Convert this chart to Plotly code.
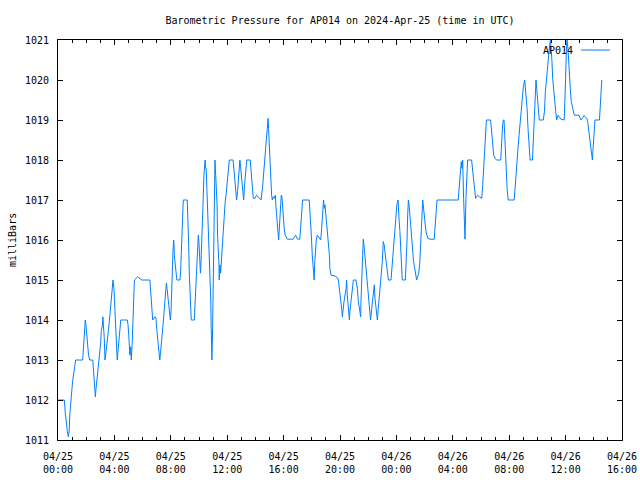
import pandas as pd
import plotly.graph_objects as go

# ---- data (minutes after 2024-04-25 00:00 UTC, pressure in mbar) ----
start_time = "2024-04-25 00:00"
minutes = [
    0, 27, 31, 35, 40, 44, 48, 50, 54, 58, 62, 67, 71, 75, 105, 108, 111, 113, 116, 119,
    122, 126, 130, 135, 148, 150, 153, 156, 159, 162, 166, 169, 173, 177, 182, 184, 189, 191, 194, 197,
    200, 203, 206, 210, 214, 218, 221, 224, 227, 230, 234, 238, 241, 244, 247, 250, 252, 255, 258, 261,
    267, 295, 298, 301, 304, 306, 309, 312, 316, 319, 322, 325, 339, 356, 391, 394, 397, 400, 403, 413,
    417, 420, 424, 428, 431, 433, 436, 438, 443, 447, 451, 455, 458, 461, 464, 467, 470, 472, 475, 478,
    481, 484, 487, 489, 492, 494, 495, 498, 502, 506, 519, 522, 525, 528, 531, 533, 550, 553, 556, 559,
    562, 565, 567, 580, 583, 586, 589, 592, 594, 597, 600, 603, 606, 608, 611, 614, 617, 621, 626, 628,
    631, 634, 638, 643, 645, 648, 650, 652, 655, 658, 661, 664, 668, 671, 674, 677, 679, 682, 685, 686,
    689, 692, 695, 698, 701, 704, 706, 711, 715, 720, 725, 729, 745, 748, 752, 756, 760, 764, 768, 771,
    774, 777, 782, 786, 790, 794, 799, 803, 818, 823, 827, 831, 838, 845, 852, 860, 864, 870, 874, 878,
    881, 885, 889, 894, 896, 899, 902, 905, 909, 912, 916, 920, 925, 927, 930, 933, 936, 939, 942, 946,
    950, 953, 958, 960, 963, 967, 976, 1001, 1011, 1020, 1029, 1034, 1038, 1041, 1069, 1074, 1078, 1082, 1085, 1090,
    1092, 1095, 1099, 1103, 1110, 1118, 1122, 1126, 1130, 1133, 1136, 1140, 1145, 1149, 1152, 1155, 1157, 1162, 1179, 1189,
    1193, 1197, 1204, 1207, 1210, 1213, 1217, 1226, 1228, 1231, 1235, 1240, 1242, 1247, 1251, 1254, 1257, 1268, 1274, 1278,
    1282, 1285, 1288, 1289, 1292, 1295, 1299, 1302, 1306, 1309, 1313, 1318, 1322, 1326, 1330, 1335, 1339, 1343, 1346, 1349,
    1353, 1359, 1363, 1367, 1372, 1376, 1380, 1384, 1388, 1393, 1397, 1401, 1406, 1417, 1421, 1425, 1430, 1434, 1438, 1442,
    1447, 1450, 1452, 1455, 1458, 1461, 1465, 1478, 1482, 1485, 1488, 1491, 1494, 1497, 1501, 1505, 1509, 1513, 1518, 1522,
    1526, 1530, 1535, 1539, 1542, 1545, 1547, 1552, 1554, 1559, 1561, 1566, 1570, 1574, 1583, 1601, 1604, 1608, 1613, 1703,
    1706, 1709, 1713, 1716, 1719, 1722, 1726, 1729, 1732, 1736, 1739, 1743, 1760, 1764, 1769, 1773, 1777, 1781, 1786, 1793,
    1803, 1807, 1811, 1816, 1818, 1823, 1841, 1845, 1850, 1854, 1860, 1867, 1884, 1886, 1889, 1892, 1895, 1898, 1901, 1904,
    1907, 1911, 1916, 1941, 1945, 1949, 1953, 1957, 1962, 1966, 1972, 1976, 1980, 1986, 1989, 1996, 2000, 2004, 2009, 2019,
    2023, 2027, 2031, 2034, 2037, 2040, 2044, 2048, 2065, 2070, 2074, 2078, 2082, 2087, 2092, 2096, 2099, 2102, 2105, 2109,
    2114, 2118, 2122, 2128, 2133, 2140, 2154, 2157, 2160, 2163, 2166, 2170, 2173, 2176, 2180, 2184, 2189, 2193, 2197, 2217,
    2225, 2233, 2238, 2244, 2250, 2254, 2258, 2262, 2267, 2271, 2274, 2277, 2279, 2282, 2285, 2304, 2308, 2311, 2314,
]
pressure = [
    1012.0, 1012.0, 1011.67, 1011.42, 1011.21, 1011.08, 1011.25, 1011.62, 1011.96, 1012.21, 1012.46, 1012.67, 1012.88, 1013.0, 1013.0, 1013.25, 1013.5, 1013.83, 1014.0, 1013.88,
    1013.62, 1013.38, 1013.12, 1013.0, 1013.0, 1012.83, 1012.54, 1012.25, 1012.08, 1012.29, 1012.5, 1012.75, 1012.96, 1013.21, 1013.46, 1013.71, 1013.88, 1014.08, 1013.88, 1013.54,
    1013.0, 1013.12, 1013.25, 1013.5, 1013.71, 1013.88, 1014.12, 1014.33, 1014.5, 1014.79, 1015.0, 1014.79, 1014.29, 1013.79, 1013.46, 1013.25, 1013.0, 1013.25, 1013.5, 1013.75,
    1014.0, 1014.0, 1013.88, 1013.62, 1013.38, 1013.12, 1013.33, 1013.0, 1013.46, 1014.0, 1014.62, 1015.0, 1015.08, 1015.0, 1015.0, 1014.79, 1014.5, 1014.21, 1014.0, 1014.08,
    1014.04, 1013.79, 1013.54, 1013.33, 1013.12, 1013.0, 1013.17, 1013.38, 1013.62, 1013.88, 1014.17, 1014.46, 1014.79, 1014.92, 1014.79, 1014.62, 1014.38, 1014.21, 1014.12, 1014.0,
    1014.21, 1015.0, 1015.46, 1015.67, 1016.0, 1015.88, 1015.62, 1015.38, 1015.21, 1015.0, 1015.0, 1015.25, 1015.75, 1016.25, 1016.75, 1017.0, 1017.0, 1016.62, 1015.88, 1015.12,
    1014.62, 1014.38, 1014.0, 1014.0, 1014.25, 1014.75, 1015.12, 1015.5, 1015.83, 1016.12, 1015.92, 1015.54, 1015.17, 1015.38, 1015.79, 1016.12, 1016.88, 1017.62, 1018.0, 1017.83,
    1017.75, 1017.21, 1016.5, 1016.04, 1015.5, 1015.0, 1014.5, 1013.79, 1013.0, 1013.83, 1015.5, 1017.17, 1018.0, 1017.62, 1017.25, 1016.88, 1016.12, 1015.79, 1015.38, 1015.0,
    1015.38, 1015.17, 1015.5, 1015.79, 1016.12, 1016.38, 1016.62, 1016.92, 1017.12, 1017.46, 1017.79, 1018.0, 1018.0, 1017.83, 1017.46, 1017.21, 1017.0, 1017.21, 1017.62, 1017.88,
    1018.0, 1017.83, 1017.54, 1017.21, 1017.0, 1017.38, 1017.71, 1018.0, 1018.0, 1017.62, 1017.38, 1017.04, 1017.04, 1017.12, 1017.08, 1017.04, 1017.0, 1017.29, 1017.62, 1017.79,
    1018.17, 1018.54, 1018.88, 1019.04, 1018.79, 1018.29, 1017.79, 1017.38, 1017.12, 1017.0, 1017.08, 1017.04, 1017.12, 1016.88, 1016.71, 1016.46, 1016.21, 1016.0, 1016.38, 1016.88,
    1017.12, 1017.08, 1016.79, 1016.5, 1016.25, 1016.12, 1016.02, 1016.02, 1016.12, 1016.02, 1016.02, 1016.5, 1016.79, 1017.0, 1017.0, 1016.62, 1016.12, 1015.62, 1015.38, 1015.0,
    1015.38, 1015.71, 1016.0, 1016.12, 1016.07, 1016.0, 1016.29, 1016.62, 1017.0, 1016.79, 1016.88, 1016.62, 1016.29, 1016.12, 1015.96, 1015.62, 1015.29, 1015.12, 1015.1, 1015.06,
    1015.0, 1014.83, 1014.54, 1014.29, 1014.08, 1014.25, 1014.46, 1014.79, 1015.0, 1014.62, 1014.29, 1014.0, 1014.21, 1014.46, 1014.71, 1014.88, 1015.0, 1015.0, 1014.79, 1014.46,
    1014.29, 1014.21, 1014.08, 1014.42, 1014.88, 1015.46, 1016.02, 1015.88, 1015.62, 1015.38, 1015.04, 1014.79, 1014.54, 1014.29, 1014.0, 1014.29, 1014.54, 1014.79, 1014.88, 1014.54,
    1014.29, 1014.0, 1014.29, 1014.54, 1014.79, 1015.12, 1015.46, 1015.96, 1015.88, 1015.62, 1015.38, 1015.12, 1015.0, 1015.0, 1015.29, 1015.62, 1015.88, 1016.21, 1016.46, 1016.88,
    1017.0, 1016.79, 1016.46, 1016.21, 1015.79, 1015.29, 1015.0, 1015.0, 1015.38, 1015.96, 1016.62, 1017.0, 1016.88, 1016.62, 1016.38, 1016.04, 1015.79, 1015.46, 1015.29, 1015.12,
    1015.0, 1015.08, 1015.17, 1015.38, 1015.71, 1016.21, 1016.54, 1017.0, 1016.88, 1016.62, 1016.38, 1016.21, 1016.12, 1016.04, 1016.02, 1016.02, 1016.29, 1016.62, 1017.0, 1017.0,
    1017.21, 1017.54, 1017.79, 1017.96, 1017.79, 1018.0, 1017.04, 1016.33, 1016.02, 1017.04, 1017.62, 1018.0, 1018.0, 1017.79, 1017.46, 1017.21, 1017.04, 1017.08, 1017.12, 1017.08,
    1017.04, 1017.33, 1017.79, 1018.38, 1018.62, 1019.0, 1019.0, 1018.71, 1018.38, 1018.12, 1018.04, 1018.0, 1018.0, 1018.29, 1018.62, 1018.88, 1019.0, 1019.0, 1018.62, 1018.21,
    1017.79, 1017.29, 1017.0, 1017.0, 1017.29, 1017.71, 1017.96, 1018.25, 1018.62, 1018.88, 1019.12, 1019.38, 1019.83, 1020.0, 1019.79, 1019.29, 1018.79, 1018.29, 1018.0, 1018.0,
    1018.54, 1019.0, 1019.54, 1020.0, 1019.79, 1019.54, 1019.21, 1019.0, 1019.0, 1019.21, 1019.71, 1020.0, 1020.38, 1020.67, 1020.88, 1021.0, 1020.79, 1020.46, 1020.04, 1019.71,
    1019.38, 1019.21, 1019.0, 1019.12, 1019.08, 1019.02, 1019.0, 1019.38, 1020.04, 1020.71, 1021.0, 1020.79, 1020.38, 1020.04, 1019.79, 1019.46, 1019.29, 1019.17, 1019.12, 1019.12,
    1019.0, 1019.06, 1019.11, 1019.08, 1019.04, 1018.96, 1018.79, 1018.62, 1018.38, 1018.17, 1018.0, 1018.29, 1018.54, 1018.79, 1019.0, 1019.0, 1019.38, 1019.79, 1020.0,
]
tick_times = ["2024-04-25 00:00", "2024-04-25 04:00", "2024-04-25 08:00", "2024-04-25 12:00",
              "2024-04-25 16:00", "2024-04-25 20:00", "2024-04-26 00:00", "2024-04-26 04:00",
              "2024-04-26 08:00", "2024-04-26 12:00", "2024-04-26 16:00"]
tick_labels = ["04/25<br>00:00", "04/25<br>04:00", "04/25<br>08:00", "04/25<br>12:00",
               "04/25<br>16:00", "04/25<br>20:00", "04/26<br>00:00", "04/26<br>04:00",
               "04/26<br>08:00", "04/26<br>12:00", "04/26<br>16:00"]
y_ticks = [1011, 1012, 1013, 1014, 1015, 1016, 1017, 1018, 1019, 1020, 1021]
series_name = "AP014"
title_text = "Barometric Pressure for AP014 on 2024-Apr-25 (time in UTC)"
y_title = "milliBars"

times = pd.Timestamp(start_time) + pd.to_timedelta(minutes, unit="min")

FONT = "DejaVu Sans Mono"
FS = 10
LINE_COLOR = "#0080ff"
W, H = 640, 480

fig = go.Figure()
fig.add_trace(go.Scatter(x=times, y=pressure, mode="lines", name=series_name,
                         line=dict(color=LINE_COLOR, width=1), showlegend=False,
                         hoverinfo="skip"))

fig.update_layout(
    width=W, height=H,
    margin=dict(l=58, r=18, t=40, b=40, autoexpand=False),
    paper_bgcolor="white", plot_bgcolor="white",
    font=dict(family=FONT, size=FS, color="black"),
    title=dict(text=title_text, x=340 / W, xanchor="center", xref="container",
               y=1 - 20 / H, yanchor="middle", yref="container",
               font=dict(family=FONT, size=FS, color="black")),
)
fig.update_xaxes(
    range=[tick_times[0], tick_times[-1]], automargin=False,
    tickmode="array", tickvals=tick_times, ticktext=tick_labels,
    ticks="inside", ticklen=5, tickcolor="black", tickwidth=1,
    minor=dict(ticks="inside", ticklen=3, dtick=3600000, tickcolor="black", showgrid=False),
    showline=True, linecolor="black", linewidth=1, mirror="allticks",
    showgrid=False, zeroline=False, ticklabelstandoff=7,
    tickfont=dict(family=FONT, size=FS, color="black"),
)
fig.update_yaxes(
    range=[y_ticks[0], y_ticks[-1]], automargin=False,
    tickmode="array", tickvals=y_ticks,
    ticks="inside", ticklen=5, tickcolor="black", tickwidth=1,
    showline=True, linecolor="black", linewidth=1, mirror="allticks",
    showgrid=False, zeroline=False, ticklabelstandoff=6,
    tickfont=dict(family=FONT, size=FS, color="black"),
)
# y-axis title (gnuplot places it at the far left)
fig.add_annotation(text=y_title, xref="paper", yref="paper", x=(12 - 58) / 564, y=0.5,
                   xanchor="center", yanchor="middle", textangle=-90, showarrow=False,
                   font=dict(family=FONT, size=FS, color="black"))
# gnuplot-style key: text followed by a line sample
fig.add_annotation(text=series_name, xref="paper", yref="paper", x=(575 - 58) / 564,
                   y=(440 - 50) / 400, xanchor="right", yanchor="middle", showarrow=False,
                   font=dict(family=FONT, size=FS, color="black"))
fig.add_shape(type="line", xref="paper", yref="paper", x0=(581 - 58) / 564, x1=(610 - 58) / 564,
              y0=(440 - 50) / 400, y1=(440 - 50) / 400, line=dict(color=LINE_COLOR, width=1))

# remove the default page margin so the 640x480 figure fills the window exactly
fig.write_html("out.html", config={"displayModeBar": False, "staticPlot": True},
               post_script="document.body.style.margin='0';document.body.style.overflow='hidden';")
